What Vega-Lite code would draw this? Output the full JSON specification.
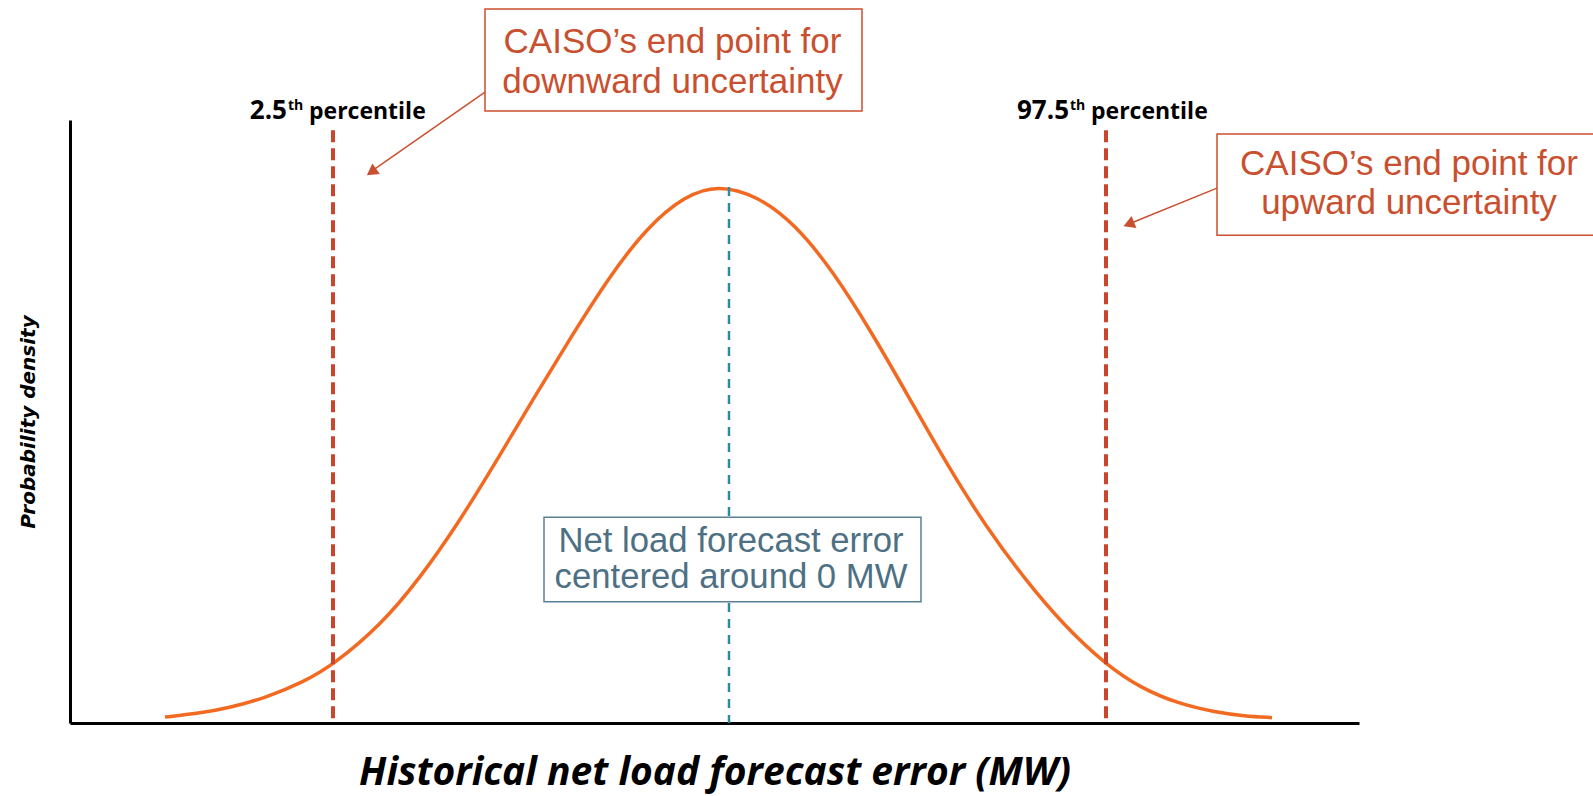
{
  "$schema": "https://vega.github.io/schema/vega-lite/v6.json",
  "width": 1289,
  "height": 603,
  "autosize": {"type": "none"},
  "padding": {"left": 70, "top": 120, "right": 234, "bottom": 73},
  "background": "white",
  "config": {"view": {"stroke": null}, "axis": {"grid": false}},
  "layer": [
    {
      "data": {"values": [
        {"error_mw": -564, "density": 0.011},
        {"error_mw": -530, "density": 0.018},
        {"error_mw": -501, "density": 0.028},
        {"error_mw": -463, "density": 0.047},
        {"error_mw": -425, "density": 0.077},
        {"error_mw": -396, "density": 0.108},
        {"error_mw": -348, "density": 0.183},
        {"error_mw": -310, "density": 0.268},
        {"error_mw": -272, "density": 0.369},
        {"error_mw": -234, "density": 0.484},
        {"error_mw": -196, "density": 0.604},
        {"error_mw": -158, "density": 0.720},
        {"error_mw": -120, "density": 0.832},
        {"error_mw": -82, "density": 0.925},
        {"error_mw": -44, "density": 0.984},
        {"error_mw": -11, "density": 1.004},
        {"error_mw": 28, "density": 0.984},
        {"error_mw": 66, "density": 0.931},
        {"error_mw": 104, "density": 0.843},
        {"error_mw": 142, "density": 0.731},
        {"error_mw": 181, "density": 0.604},
        {"error_mw": 219, "density": 0.479},
        {"error_mw": 257, "density": 0.366},
        {"error_mw": 296, "density": 0.268},
        {"error_mw": 334, "density": 0.184},
        {"error_mw": 376, "density": 0.110},
        {"error_mw": 411, "density": 0.066},
        {"error_mw": 449, "density": 0.036},
        {"error_mw": 487, "density": 0.020},
        {"error_mw": 515, "density": 0.013},
        {"error_mw": 543, "density": 0.010}
      ]},
      "mark": {"type": "line", "color": "#f26a21", "strokeWidth": 3.5, "interpolate": "basis"},
      "encoding": {
        "x": {
          "field": "error_mw", "type": "quantitative",
          "scale": {"domain": [-659, 630], "nice": false, "zero": false},
          "axis": {
            "title": "Historical net load forecast error (MW)",
            "ticks": false, "labels": false,
            "domainColor": "#000000", "domainWidth": 3,
            "titleFont": "Open Sans", "titleFontSize": 39, "titleFontWeight": "bold", "titleFontStyle": "italic",
            "titleColor": "#000000", "titlePadding": 30
          }
        },
        "y": {
          "field": "density", "type": "quantitative",
          "scale": {"domain": [0, 1.125], "nice": false, "zero": false},
          "axis": {
            "title": "Probability density",
            "ticks": false, "labels": false,
            "domainColor": "#000000", "domainWidth": 3,
            "titleFont": "DejaVu Sans", "titleFontSize": 20, "titleFontWeight": "bold", "titleFontStyle": "italic",
            "titleColor": "#000000", "titlePadding": 32
          }
        }
      }
    },
    {
      "data": {"values": [
        {"percentile": "2.5", "error_mw": -396},
        {"percentile": "97.5", "error_mw": 377}
      ]},
      "layer": [
        {
          "mark": {"type": "rule", "color": "#c9452c", "strokeWidth": 4, "strokeDash": [12, 6]},
          "encoding": {
            "x": {"field": "error_mw", "type": "quantitative"},
            "y": {"datum": 1.106, "type": "quantitative"},
            "y2": {"datum": 0}
          }
        },
        {
          "transform": [{"filter": "datum.percentile == '2.5'"}],
          "layer": [
            {
              "mark": {"type": "text", "align": "right", "baseline": "alphabetic", "dx": -46, "font": "Open Sans", "fontSize": 26, "fontWeight": "bold", "color": "#000000"},
              "encoding": {
                "x": {"field": "error_mw", "type": "quantitative"},
                "y": {"datum": 1.127, "type": "quantitative"},
                "text": {"field": "percentile", "type": "nominal"}
              }
            },
            {
              "mark": {"type": "text", "text": "th", "align": "left", "baseline": "alphabetic", "dx": -45, "dy": -9, "font": "Open Sans", "fontSize": 14, "fontWeight": "bold", "color": "#000000"},
              "encoding": {
                "x": {"field": "error_mw", "type": "quantitative"},
                "y": {"datum": 1.127, "type": "quantitative"}
              }
            },
            {
              "mark": {"type": "text", "text": "percentile", "align": "left", "baseline": "alphabetic", "dx": -24, "font": "Open Sans", "fontSize": 23, "fontWeight": "bold", "color": "#000000"},
              "encoding": {
                "x": {"field": "error_mw", "type": "quantitative"},
                "y": {"datum": 1.127, "type": "quantitative"}
              }
            }
          ]
        },
        {
          "transform": [{"filter": "datum.percentile == '97.5'"}],
          "layer": [
            {
              "mark": {"type": "text", "align": "right", "baseline": "alphabetic", "dx": -37, "font": "Open Sans", "fontSize": 26, "fontWeight": "bold", "color": "#000000"},
              "encoding": {
                "x": {"field": "error_mw", "type": "quantitative"},
                "y": {"datum": 1.127, "type": "quantitative"},
                "text": {"field": "percentile", "type": "nominal"}
              }
            },
            {
              "mark": {"type": "text", "text": "th", "align": "left", "baseline": "alphabetic", "dx": -36, "dy": -9, "font": "Open Sans", "fontSize": 14, "fontWeight": "bold", "color": "#000000"},
              "encoding": {
                "x": {"field": "error_mw", "type": "quantitative"},
                "y": {"datum": 1.127, "type": "quantitative"}
              }
            },
            {
              "mark": {"type": "text", "text": "percentile", "align": "left", "baseline": "alphabetic", "dx": -15, "font": "Open Sans", "fontSize": 23, "fontWeight": "bold", "color": "#000000"},
              "encoding": {
                "x": {"field": "error_mw", "type": "quantitative"},
                "y": {"datum": 1.127, "type": "quantitative"}
              }
            }
          ]
        }
      ]
    },
    {
      "data": {"values": [{"mean_error_mw": 0, "peak": 1.0}]},
      "mark": {"type": "rule", "color": "#2e8b9e", "strokeWidth": 2.5, "strokeDash": [9, 7]},
      "encoding": {
        "x": {"field": "mean_error_mw", "type": "quantitative"},
        "y": {"field": "peak", "type": "quantitative"},
        "y2": {"datum": 0}
      }
    },
    {
      "data": {"values": [{"note": "downward"}]},
      "layer": [
        {
          "mark": {"type": "rect", "fill": "white", "stroke": "#c9502f", "strokeWidth": 1.5},
          "encoding": {"x": {"datum": -244, "type": "quantitative"}, "x2": {"datum": 133}, "y": {"datum": 1.142, "type": "quantitative"}, "y2": {"datum": 1.332}}
        },
        {
          "mark": {"type": "text", "text": ["CAISO’s end point for", "downward uncertainty"], "align": "center", "baseline": "alphabetic", "lineHeight": 40, "font": "Liberation Sans", "fontSize": 35, "color": "#c9502f"},
          "encoding": {"x": {"datum": -56.5, "type": "quantitative"}, "y": {"datum": 1.25, "type": "quantitative"}}
        },
        {
          "mark": {"type": "rule", "color": "#c9502f", "strokeWidth": 1.5},
          "encoding": {"x": {"datum": -244, "type": "quantitative"}, "y": {"datum": 1.177, "type": "quantitative"}, "x2": {"datum": -357}, "y2": {"datum": 1.03}}
        },
        {
          "mark": {"type": "point", "shape": "triangle", "filled": true, "size": 170, "angle": 235, "color": "#c9502f", "opacity": 1},
          "encoding": {"x": {"datum": -356, "type": "quantitative"}, "y": {"datum": 1.03, "type": "quantitative"}}
        }
      ]
    },
    {
      "data": {"values": [{"note": "upward"}]},
      "layer": [
        {
          "mark": {"type": "rect", "fill": "white", "stroke": "#c9502f", "strokeWidth": 1.5},
          "encoding": {"x": {"datum": 488, "type": "quantitative"}, "x2": {"datum": 870}, "y": {"datum": 0.91, "type": "quantitative"}, "y2": {"datum": 1.099}}
        },
        {
          "mark": {"type": "text", "text": ["CAISO’s end point for", "upward uncertainty"], "align": "center", "baseline": "alphabetic", "lineHeight": 39, "font": "Liberation Sans", "fontSize": 35, "color": "#c9502f"},
          "encoding": {"x": {"datum": 680, "type": "quantitative"}, "y": {"datum": 1.022, "type": "quantitative"}}
        },
        {
          "mark": {"type": "rule", "color": "#c9502f", "strokeWidth": 1.5},
          "encoding": {"x": {"datum": 488, "type": "quantitative"}, "y": {"datum": 0.998, "type": "quantitative"}, "x2": {"datum": 401}, "y2": {"datum": 0.932}}
        },
        {
          "mark": {"type": "point", "shape": "triangle", "filled": true, "size": 170, "angle": 248, "color": "#c9502f", "opacity": 1},
          "encoding": {"x": {"datum": 401.5, "type": "quantitative"}, "y": {"datum": 0.932, "type": "quantitative"}}
        }
      ]
    },
    {
      "data": {"values": [{"note": "centered"}]},
      "layer": [
        {
          "mark": {"type": "rect", "fill": "white", "stroke": "#5b7f94", "strokeWidth": 1.5},
          "encoding": {"x": {"datum": -185, "type": "quantitative"}, "x2": {"datum": 192}, "y": {"datum": 0.226, "type": "quantitative"}, "y2": {"datum": 0.384}}
        },
        {
          "mark": {"type": "text", "text": ["Net load forecast error", "centered around 0 MW"], "align": "center", "baseline": "alphabetic", "lineHeight": 36, "font": "Liberation Sans", "fontSize": 34.7, "color": "#4e7084"},
          "encoding": {"x": {"datum": 2, "type": "quantitative"}, "y": {"datum": 0.319, "type": "quantitative"}}
        }
      ]
    }
  ]
}
